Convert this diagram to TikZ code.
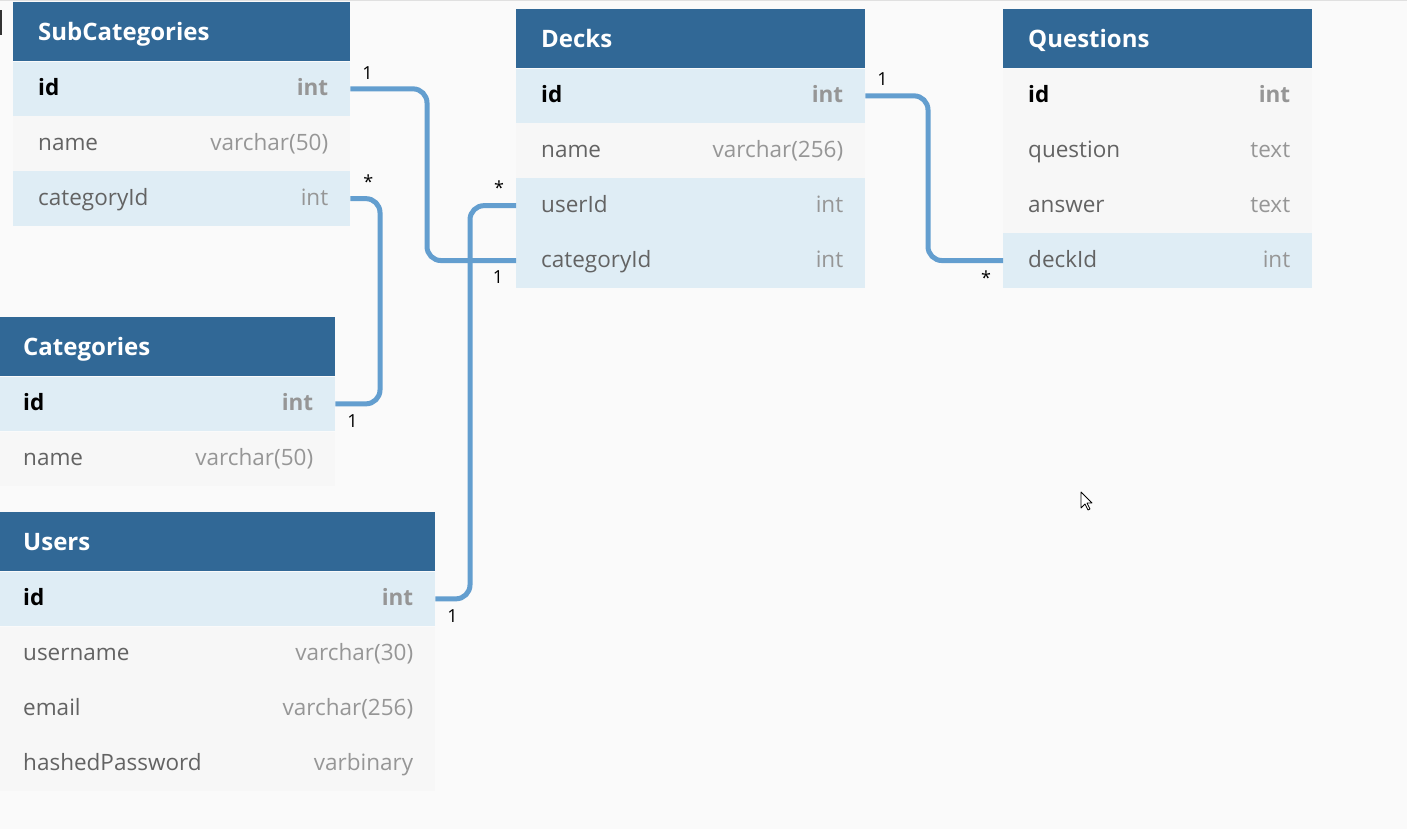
\documentclass[tikz,border=0pt]{standalone}
\usepackage{fontspec}
\setmainfont{Open Sans}
\usetikzlibrary{positioning, calc}

\definecolor{headblue}{HTML}{316896}
\definecolor{keyblue}{HTML}{DFEDF5}
\definecolor{plaingray}{HTML}{F7F7F7}
\definecolor{canvas}{HTML}{FAFAFA}
\definecolor{linkblue}{HTML}{639ECF}
\definecolor{fieldgray}{HTML}{636363}
\definecolor{typegray}{HTML}{969696}

\begin{document}
\begin{tikzpicture}[
         x=1pt, y=-1pt,
         tblhead/.style={anchor=north west, fill=headblue, minimum height=59pt, inner sep=0pt},
         tbltitle/.style={text=white, font=\fontsize{24}{28}\selectfont\bfseries, inner sep=0pt, text height=17pt, text depth=0pt},
         rowbox/.style={anchor=north, minimum height=54.5pt, inner sep=0pt},
         pk/.style={rowbox, fill=keyblue},
         pkg/.style={rowbox, fill=plaingray},
         fk/.style={rowbox, fill=keyblue},
         col/.style={rowbox, fill=plaingray},
         celltext/.style={inner sep=0pt, text height=14pt, text depth=0pt, font=\fontsize{22.5}{26}\selectfont},
         pk-field/.style={celltext, font=\fontsize{22.5}{26}\selectfont\bfseries, text=black},
         pkg-field/.style={pk-field},
         fk-field/.style={celltext, text=fieldgray},
         col-field/.style={fk-field},
         pk-type/.style={celltext, font=\fontsize{22.5}{26}\selectfont\bfseries, text=typegray},
         pkg-type/.style={pk-type},
         fk-type/.style={celltext, text=typegray},
         col-type/.style={fk-type},
         link/.style={draw=linkblue, line width=5pt, rounded corners=14pt},
         card/.style={font=\fontsize{18}{20}\selectfont, inner sep=0pt}
      ]
         % Canvas
         \useasboundingbox (0,0) rectangle (1407,829);
         \fill[canvas] (0,0) rectangle (1407,829);
         \draw[black!12, line width=1.5pt] (0,0.75) -- (1407,0.75);
         \fill[black!80] (0,10) rectangle (2,35);

         % SubCategories
         \node[tblhead, minimum width=337pt] (sub-head) at (13,2) {};
         \node[tbltitle, right=25pt of sub-head.west] {SubCategories};
         \foreach \f/\t/\s [remember=\f as \p (initially head)] in
            {id/int/pk, name/varchar(50)/col, categoryId/int/fk} {
            \node[\s, minimum width=337pt, below=0pt of sub-\p] (sub-\f) {};
            \node[\s-field, right=25pt of sub-\f.west] {\f};
            \node[\s-type, left=22pt of sub-\f.east] {\t};
         }

         % Decks
         \node[tblhead, minimum width=349pt] (dk-head) at (516,9) {};
         \node[tbltitle, right=25pt of dk-head.west] {Decks};
         \foreach \f/\t/\s [remember=\f as \p (initially head)] in
            {id/int/pk, name/varchar(256)/col, userId/int/fk, categoryId/int/fk} {
            \node[\s, minimum width=349pt, below=0pt of dk-\p] (dk-\f) {};
            \node[\s-field, right=25pt of dk-\f.west] {\f};
            \node[\s-type, left=22pt of dk-\f.east] {\t};
         }

         % Questions
         \node[tblhead, minimum width=309pt] (q-head) at (1003,9) {};
         \node[tbltitle, right=25pt of q-head.west] {Questions};
         \foreach \f/\t/\s [remember=\f as \p (initially head)] in
            {id/int/pkg, question/text/col, answer/text/col, deckId/int/fk} {
            \node[\s, minimum width=309pt, below=0pt of q-\p] (q-\f) {};
            \node[\s-field, right=25pt of q-\f.west] {\f};
            \node[\s-type, left=22pt of q-\f.east] {\t};
         }

         % Categories
         \node[tblhead, minimum width=337pt] (cat-head) at (-2,317) {};
         \node[tbltitle, right=25pt of cat-head.west] {Categories};
         \foreach \f/\t/\s [remember=\f as \p (initially head)] in
            {id/int/pk, name/varchar(50)/col} {
            \node[\s, minimum width=337pt, below=0pt of cat-\p] (cat-\f) {};
            \node[\s-field, right=25pt of cat-\f.west] {\f};
            \node[\s-type, left=22pt of cat-\f.east] {\t};
         }

         % Users
         \node[tblhead, minimum width=437pt] (usr-head) at (-2,512) {};
         \node[tbltitle, right=25pt of usr-head.west] {Users};
         \foreach \f/\t/\s [remember=\f as \p (initially head)] in
            {id/int/pk, username/varchar(30)/col, email/varchar(256)/col, hashedPassword/varbinary/col} {
            \node[\s, minimum width=437pt, below=0pt of usr-\p] (usr-\f) {};
            \node[\s-field, right=25pt of usr-\f.west] {\f};
            \node[\s-type, left=22pt of usr-\f.east] {\t};
         }

         % Bends of the links
         \coordinate (bend-sub) at (427,0);
         \coordinate (bend-cat) at (380,0);
         \coordinate (bend-usr) at (470,0);
         \coordinate (bend-q) at (928,0);

         % Links
         \draw[link] (sub-id.east) -- (sub-id.east -| bend-sub) |- (dk-categoryId.west);
         \draw[link] (sub-categoryId.east) -- (sub-categoryId.east -| bend-cat) |- (cat-id.east);
         \draw[link] (usr-id.east) -- (usr-id.east -| bend-usr) |- (dk-userId.west);
         \draw[link] (dk-id.east) -- (dk-id.east -| bend-q) |- (q-deckId.west);

         % Cardinalities
         \node[card] (n-sub-id) at ($(sub-id.east)+(17,-16)$) {1};
         \node[card] (n-dk-cat) at ($(dk-categoryId.west)+(-18,17)$) {1};
         \node[card] (n-sub-cat) at ($(sub-categoryId.east)+(18,-17)$) {*};
         \node[card] (n-cat-id) at ($(cat-id.east)+(17,17)$) {1};
         \node[card] (n-usr-id) at ($(usr-id.east)+(17,17)$) {1};
         \node[card] (n-dk-usr) at ($(dk-userId.west)+(-17,-18)$) {*};
         \node[card] (n-dk-id) at ($(dk-id.east)+(17,-17)$) {1};
         \node[card] (n-q-deck) at ($(q-deckId.west)+(-17,17)$) {*};

         % Pointer
         \draw[black, fill=white, line width=0.8pt, line join=round]
            (1081,492) -- (1081,508) -- (1085,504) -- (1088,510) -- (1090,509) -- (1087,503) -- (1092,503) -- cycle;
\end{tikzpicture}
\end{document}
